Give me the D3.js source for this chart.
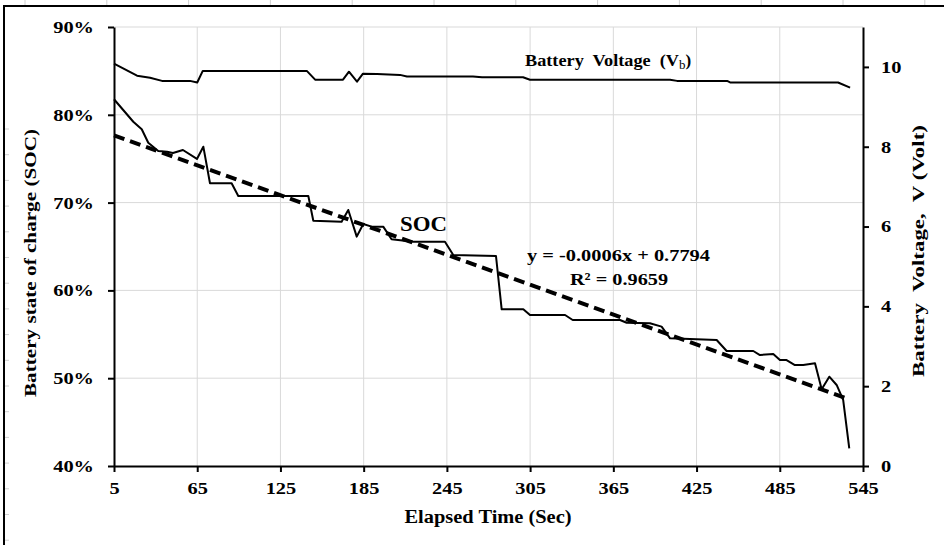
<!DOCTYPE html>
<html>
<head>
<meta charset="utf-8">
<script src="https://cdn.jsdelivr.net/npm/d3@7"></script>
<style>
  html, body { margin: 0; padding: 0; background: #fff; }
  svg { display: block; }
  text { font-family: "Liberation Serif", "Times New Roman", serif; font-weight: bold; fill: #000; }
</style>
</head>
<body>
<svg id="chart" width="944" height="545"></svg>
<script>
// ---- data ----
const socTime = [5, 18.9, 25.0, 29.7, 36.9, 43.2, 47.5, 54.7, 64.8, 69.4, 74.2, 89.8, 94.6, 145.1,
  148.7, 169.1, 173.9, 180.0, 184.7, 190.7, 199.1, 205.1, 220.7, 243.6, 249.6, 280.4, 284.5, 300.1,
  304.9, 330.2, 335.7, 369.8, 374.6, 391.4, 399.8, 405.9, 439.5, 446.7, 465.9, 470.7, 480.3, 485.1,
  489.9, 495.9, 501.9, 510.4, 515.2, 520.7, 526.0, 530.7, 535.1];
const socValue = [0.8177, 0.7921, 0.7835, 0.7682, 0.7588, 0.7580, 0.7565, 0.7599, 0.7497, 0.7637,
  0.7220, 0.7220, 0.7075, 0.7075, 0.6794, 0.6782, 0.6916, 0.6612, 0.6756, 0.6726, 0.6726, 0.6582,
  0.6555, 0.6555, 0.6403, 0.6392, 0.5785, 0.5785, 0.5720, 0.5720, 0.5663, 0.5663, 0.5632, 0.5625,
  0.5587, 0.5454, 0.5435, 0.5310, 0.5310, 0.5264, 0.5276, 0.5207, 0.5207, 0.5150, 0.5150, 0.5170,
  0.4874, 0.5017, 0.4923, 0.4752, 0.4202];
const voltTime = [5, 21.6, 31, 39.6, 59.8, 65, 69, 144, 150, 170.1, 174.4, 180.2, 184.5, 194.6, 211.2,
  216.2, 263.8, 270.3, 299.9, 304.9, 405.9, 410.9, 447, 449.2, 527, 535.7];
const voltValue = [10.08, 9.78, 9.73, 9.65, 9.65, 9.61, 9.90, 9.90, 9.68, 9.68, 9.88, 9.63, 9.83, 9.82,
  9.80, 9.76, 9.76, 9.74, 9.74, 9.68, 9.68, 9.65, 9.65, 9.61, 9.61, 9.48];
const trendSlope = -0.000567;
const trendIntercept = 0.7794;
const trendSpan = [5, 532];
const xTicks = [5, 65, 125, 185, 245, 305, 365, 425, 485, 545];
const socTicks = [0.4, 0.5, 0.6, 0.7, 0.8, 0.9];
const voltTicks = [0, 2, 4, 6, 8, 10];
const equationText = "y = -0.0006x + 0.7794";
const r2Text = "R² = 0.9659";

// ---- layout ----
const svg = d3.select("#chart");
const L = 114, R = 863, T = 27, B = 466;
const x = d3.scaleLinear([5, 545], [L, R]);
const yL = d3.scaleLinear([0.4, 0.9], [B, T]);
const yR = d3.scaleLinear([0, 11], [B, T]);

function stretch(sel, factor) {
  sel.each(function () {
    const w = this.getComputedTextLength();
    d3.select(this).attr("textLength", w * factor).attr("lengthAdjust", "spacingAndGlyphs");
  });
}
function fitTo(sel, len) {
  sel.attr("textLength", len).attr("lengthAdjust", "spacingAndGlyphs");
  return sel;
}

// sheet decoration (frame)
const deco = svg.append("g");
d3.range(25, 944, 81.8).forEach(px => deco.append("line")
  .attr("x1", px).attr("x2", px).attr("y1", 0).attr("y2", 6).attr("stroke", "#d0d0d0"));
d3.range(129, 545, 25.7).forEach(py => deco.append("line")
  .attr("x1", 4).attr("x2", 9).attr("y1", py).attr("y2", py).attr("stroke", "#d0d0d0"));
deco.append("line").attr("x1", 3).attr("x2", 944).attr("y1", 6).attr("y2", 6)
  .attr("stroke", "#000").attr("stroke-width", 2);
deco.append("line").attr("x1", 4).attr("x2", 4).attr("y1", 5).attr("y2", 545)
  .attr("stroke", "#000").attr("stroke-width", 2);

// gridlines
const grid = svg.append("g").attr("stroke", "#d9d9d9").attr("stroke-width", 1);
grid.selectAll(".gx").data(xTicks.slice(1, -1)).join("line")
  .attr("x1", d => x(d)).attr("x2", d => x(d)).attr("y1", T).attr("y2", B);
grid.selectAll(".gy").data(socTicks.slice(1)).join("line")
  .attr("x1", L).attr("x2", R).attr("y1", d => yL(d)).attr("y2", d => yL(d));

// axes
function styleAxis(g) {
  g.select(".domain").attr("stroke", "#000").attr("stroke-width", 2);
  g.selectAll(".tick line").attr("stroke", "#000").attr("stroke-width", 2);
  g.selectAll(".tick text").style("font-size", "17px").attr("fill", "#000");
  stretch(g.selectAll(".tick text"), 1.2);
}
const ax = svg.append("g").attr("transform", `translate(0,${B})`)
  .call(d3.axisBottom(x).tickValues(xTicks).tickSize(6).tickSizeOuter(0).tickPadding(10).tickFormat(d3.format("d")));
styleAxis(ax);
const al = svg.append("g").attr("transform", `translate(${L},0)`)
  .call(d3.axisLeft(yL).tickValues(socTicks).tickSize(6).tickSizeOuter(0).tickPadding(14).tickFormat(d3.format(".0%")));
styleAxis(al);
const ar = svg.append("g").attr("transform", `translate(${R},0)`)
  .call(d3.axisRight(yR).tickValues(voltTicks).tickSize(6).tickSizeOuter(0).tickPadding(12));
styleAxis(ar);

// lines
const socData = socTime.map((t, i) => [t, socValue[i]]);
const voltData = voltTime.map((t, i) => [t, voltValue[i]]);
svg.append("path").datum(voltData)
  .attr("fill", "none").attr("stroke", "#000").attr("stroke-width", 2).attr("stroke-linejoin", "round")
  .attr("d", d3.line().x(d => x(d[0])).y(d => yR(d[1])));
svg.append("path").datum(socData)
  .attr("fill", "none").attr("stroke", "#000").attr("stroke-width", 2).attr("stroke-linejoin", "round")
  .attr("d", d3.line().x(d => x(d[0])).y(d => yL(d[1])));
const trendData = trendSpan.map(t => [t, trendIntercept + trendSlope * t]);
svg.append("path").datum(trendData)
  .attr("fill", "none").attr("stroke", "#000").attr("stroke-width", 4).attr("stroke-dasharray", "11,6")
  .attr("d", d3.line().x(d => x(d[0])).y(d => yL(d[1])));

// labels
fitTo(svg.append("text").attr("x", 488).attr("y", 523).attr("text-anchor", "middle")
  .style("font-size", "18px").text("Elapsed Time (Sec)"), 167);
fitTo(svg.append("text").attr("transform", "translate(36,263) rotate(-90)").attr("text-anchor", "middle")
  .style("font-size", "16px").text("Battery state of charge (SOC)"), 268);
fitTo(svg.append("text").attr("transform", "translate(924,251) rotate(-90)").attr("text-anchor", "middle")
  .style("font-size", "17px").style("white-space", "pre").text("Battery  Voltage,  V (Volt)"), 252);
const vt = svg.append("text").attr("x", 525).attr("y", 66).style("font-size", "17px").style("white-space", "pre");
fitTo(vt.append("tspan").text("Battery  Voltage  (V"), 154);
vt.append("tspan").attr("dy", 3).style("font-size", "13px").style("font-weight", "normal").text("b");
vt.append("tspan").attr("dy", -3).text(")");
fitTo(svg.append("text").attr("x", 400).attr("y", 231).style("font-size", "22px").text("SOC"), 47);
fitTo(svg.append("text").attr("x", 527).attr("y", 261).style("font-size", "17px").text(equationText), 183);
fitTo(svg.append("text").attr("x", 570).attr("y", 285).style("font-size", "17px").text(r2Text), 98);
</script>
</body>
</html>
